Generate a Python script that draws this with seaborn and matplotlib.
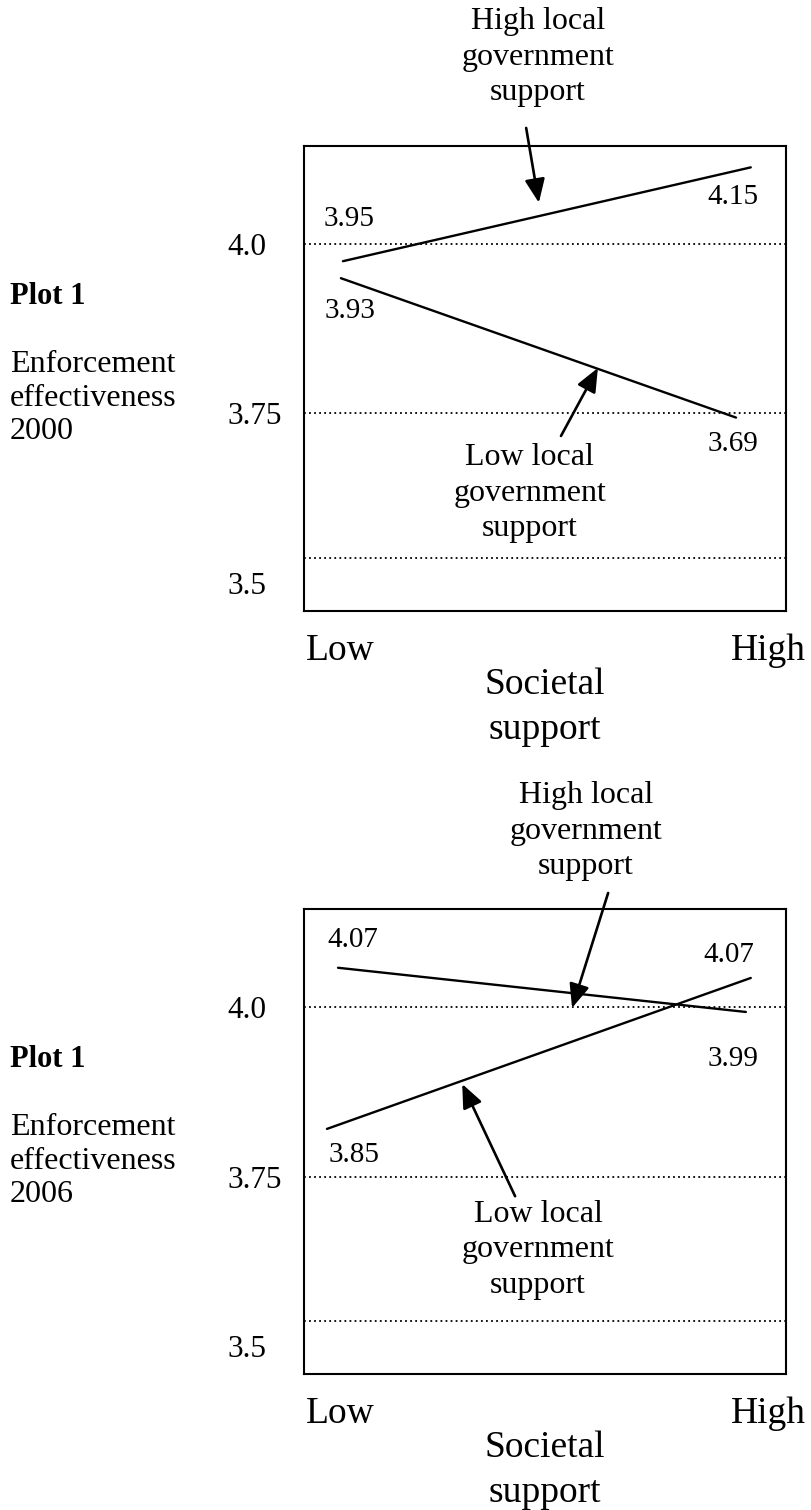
import matplotlib

matplotlib.use("Agg")

import matplotlib.pyplot as plt
import pandas as pd
import seaborn as sns
from matplotlib.transforms import ScaledTranslation

# societal support position (0 = Low, 1 = High) of each line end, as drawn
societal_2000_high = [0.007, 1.002]
societal_2000_low = [0.002, 0.966]
societal_2006_high = [-0.005, 0.990]
societal_2006_low = [-0.032, 1.002]

# enforcement effectiveness where each line end is drawn
effect_2000_high = [3.974, 4.112]
effect_2000_low = [3.949, 3.744]
effect_2006_high = [4.057, 3.992]
effect_2006_low = [3.820, 4.042]

# numbers printed beside the line ends
labels_2000_high = ["3.95", "4.15"]
labels_2000_low = ["3.93", "3.69"]
labels_2006_high = ["4.07", "3.99"]
labels_2006_low = ["3.85", "4.07"]

y_ticks = [3.5, 3.75, 4.0]
y_tick_labels = ["3.5", "3.75", "4.0"]
guide_levels = [4.0, 3.75, 3.538]
x_ticks = [0, 1]
x_tick_labels = ["Low", "High"]

FONT = ["Liberation Serif", "DejaVu Serif"]


def line_frame(high_x, high_y, low_x, low_y):
    return pd.concat(
        [
            pd.DataFrame({"societal": high_x, "effect": high_y, "group": "High"}),
            pd.DataFrame({"societal": low_x, "effect": low_y, "group": "Low"}),
        ],
        ignore_index=True,
    )


def draw_panel(ax, year, frame, labels, label_offsets, arrows, group_text):
    sns.lineplot(
        data=frame,
        x="societal",
        y="effect",
        hue="group",
        palette={"High": "black", "Low": "black"},
        estimator=None,
        sort=False,
        linewidth=1.7,
        legend=False,
        ax=ax,
    )
    for level in guide_levels:
        ax.axhline(level, color="black", lw=1.3, linestyle=(0, (1, 1.8)), zorder=1)

    ax.set_xlim(-0.088, 1.088)
    ax.set_ylim(3.4596, 4.1434)
    ax.set_yticks(y_ticks, y_tick_labels, fontsize=22.5)
    ax.set_xticks(x_ticks, x_tick_labels, fontsize=27)
    ax.tick_params(axis="y", length=0, pad=55)
    ax.tick_params(axis="x", length=0, pad=16)
    for label in ax.get_yticklabels():
        label.set_horizontalalignment("left")
    high_label = ax.get_xticklabels()[1]
    high_label.set_transform(
        high_label.get_transform() + ScaledTranslation(0.18, 0, ax.figure.dpi_scale_trans)
    )
    ax.set_xlabel("Societal\nsupport", fontsize=27, linespacing=1.38, labelpad=0)
    ax.set_ylabel("")

    for spine in ax.spines.values():
        spine.set_visible(True)
        spine.set_color("black")
        spine.set_linewidth(1.5)

    # value labels next to each end of the lines
    for group, texts in labels.items():
        rows = frame[frame["group"] == group].reset_index(drop=True)
        for i, text in enumerate(texts):
            ax.annotate(
                text,
                xy=(rows.loc[i, "societal"], rows.loc[i, "effect"]),
                xytext=label_offsets[group][i],
                textcoords="offset points",
                ha="center",
                va="center",
                fontsize=21,
            )

    for tail, tip in arrows:
        ax.annotate(
            "",
            xy=tip,
            xytext=tail,
            arrowprops=dict(
                arrowstyle="-|>,head_length=0.4,head_width=0.17",
                mutation_scale=36,
                color="black",
                lw=1.9,
                shrinkA=0,
                shrinkB=0,
            ),
            annotation_clip=False,
        )

    for (x, y), text in group_text:
        ax.text(x, y, text, ha="center", va="center", fontsize=23, linespacing=1.3, clip_on=False)

    ax.text(-0.61, 0.677, "Plot 1", transform=ax.transAxes, fontsize=22,
            fontweight="bold", ha="left", va="center")
    ax.text(-0.61, 0.458, f"Enforcement\neffectiveness\n{year}", transform=ax.transAxes,
            fontsize=23, ha="left", va="center", linespacing=1.2)


sns.set_theme(style="white")
plt.rcParams["font.family"] = FONT
plt.rcParams["text.color"] = "black"
plt.rcParams["axes.labelcolor"] = "black"
plt.rcParams["xtick.color"] = "black"
plt.rcParams["ytick.color"] = "black"

fig = plt.figure(figsize=(8.12, 15.10), dpi=100)
ax_top = fig.add_axes([0.3744, 0.5954, 0.5936, 0.3079])
ax_bottom = fig.add_axes([0.3744, 0.0901, 0.5936, 0.3079])

draw_panel(
    ax_top,
    2000,
    line_frame(societal_2000_high, effect_2000_high, societal_2000_low, effect_2000_low),
    {"High": labels_2000_high, "Low": labels_2000_low},
    {"High": [(4.3, 30.2), (-13.0, -21.6)], "Low": [(6.5, -23.8), (-2.0, -18.7)]},
    [((0.454, 4.170), (0.485, 4.060)), ((0.539, 3.717), (0.629, 3.817))],
    [((0.483, 4.274), "High local\ngovernment\nsupport"),
     ((0.463, 3.633), "Low local\ngovernment\nsupport")],
)
draw_panel(
    ax_bottom,
    2006,
    line_frame(societal_2006_high, effect_2006_high, societal_2006_low, effect_2006_low),
    {"High": labels_2006_high, "Low": labels_2006_low},
    {"High": [(10.8, 20.2), (-9.4, -34.0)], "Low": [(19.4, -18.7), (-15.8, 16.6)]},
    [((0.654, 4.167), (0.566, 3.998)), ((0.427, 3.721), (0.298, 3.886))],
    [((0.600, 4.258), "High local\ngovernment\nsupport"),
     ((0.483, 3.642), "Low local\ngovernment\nsupport")],
)

fig.savefig("out.png", dpi=100)
